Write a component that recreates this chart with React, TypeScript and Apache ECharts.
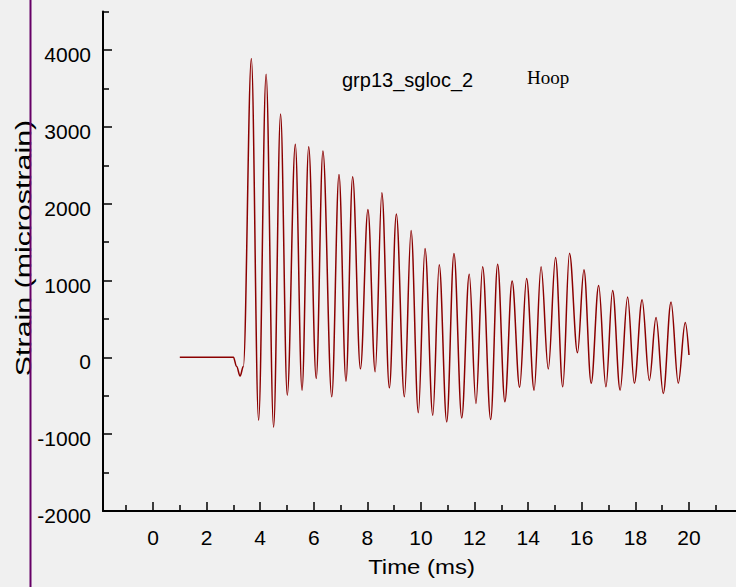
import React, { useEffect, useRef } from "react";
import * as echarts from "echarts";

// Extrema of the recorded strain trace (time in ms, strain in microstrain)
const timeMs = [
  1.0, 3.0, 3.12, 3.25, 3.37,
  3.67, 3.94, 4.22, 4.5, 4.76, 5.01, 5.31, 5.56, 5.81, 6.09,
  6.34, 6.67, 6.94, 7.2, 7.45, 7.74, 8.02, 8.29, 8.54, 8.82,
  9.08, 9.38, 9.63, 9.9, 10.15, 10.44, 10.68, 10.96, 11.23, 11.52,
  11.8, 12.05, 12.3, 12.6, 12.86, 13.13, 13.4, 13.68, 13.94, 14.22,
  14.48, 14.75, 15.02, 15.29, 15.54, 15.84, 16.08, 16.35, 16.63, 16.9,
  17.15, 17.43, 17.71, 17.96, 18.25, 18.52, 18.77, 19.04, 19.33, 19.6,
  19.86, 20.0,
];
const strain = [
  0, 0, -120, -242, -120,
  3890, -818, 3684, -910, 3167, -492, 2772, -427, 2741, -275,
  2685, -514, 2381, -310, 2350, -150, 1925, -187, 2142, -397,
  1865, -514, 1652, -722, 1418, -753, 1205, -840, 1353, -788,
  1083, -600, 1178, -809, 1210, -579, 994, -390, 1027, -427,
  1178, -152, 1299, -384, 1356, 60, 1140, -338, 935, -384,
  870, -427, 785, -338, 750, -300, 517, -470, 721, -336,
  455, 30,
];

const majorTimeTicks = [0, 2, 4, 6, 8, 10, 12, 14, 16, 18, 20];
const minorTimeTicks = [-1, 1, 3, 5, 7, 9, 11, 13, 15, 17, 19, 21];
const majorStrainTicks = [-2000, -1000, 0, 1000, 2000, 3000, 4000];
const minorStrainTicks = [-1500, -500, 500, 1500, 2500, 3500, 4500];

const xTitle = "Time (ms)";
const yTitle = "Strain (microstrain)";
const gaugeLabel = "grp13_sgloc_2";
const directionLabel = "Hoop";

export default function App() {
  const ref = useRef<HTMLDivElement>(null);
  useEffect(() => {
    document.body.style.margin = "0";
    const chart = echarts.init(ref.current!, null, { renderer: "svg" });
    const font = "Arial, 'Liberation Sans', Helvetica, sans-serif";
    const xMin = -1.866;
    const xMax = 21.754;
    chart.setOption({
      animation: false,
      backgroundColor: "#f0f0f0",
      grid: { left: 103, right: 0, top: 11.6, bottom: 76, containLabel: false, outerBoundsMode: "none" },
      xAxis: [
        {
          type: "value",
          min: xMin,
          max: xMax,
          axisLine: { show: true, onZero: false, lineStyle: { color: "#000", width: 2 } },
          axisTick: { show: true, inside: true, length: 9, customValues: majorTimeTicks, lineStyle: { color: "#000", width: 1.5 } },
          axisLabel: { customValues: majorTimeTicks, formatter: (v: number) => String(v), fontFamily: font, fontSize: 21, color: "#000", margin: 16 },
          splitLine: { show: false },
        },
        {
          type: "value",
          min: xMin,
          max: xMax,
          position: "bottom",
          axisLine: { show: false, onZero: false },
          axisTick: { show: true, inside: true, length: 6, customValues: minorTimeTicks, lineStyle: { color: "#000", width: 1.5 } },
          axisLabel: { show: false },
          splitLine: { show: false },
        },
      ],
      yAxis: [
        {
          type: "value",
          min: -2000,
          max: 4500,
          axisLine: { show: true, onZero: false, lineStyle: { color: "#000", width: 2 } },
          axisTick: { show: true, inside: true, length: 9, customValues: majorStrainTicks, lineStyle: { color: "#000", width: 1.5 } },
          axisLabel: {
            customValues: majorStrainTicks,
            formatter: (v: number) => String(v),
            fontFamily: font,
            fontSize: 21,
            color: "#000",
            margin: 12,
            verticalAlign: "top",
            lineHeight: 9,
          },
          splitLine: { show: false },
        },
        {
          type: "value",
          min: -2000,
          max: 4500,
          position: "left",
          axisLine: { show: false, onZero: false },
          axisTick: { show: true, inside: true, length: 6, customValues: minorStrainTicks, lineStyle: { color: "#000", width: 1.5 } },
          axisLabel: { show: false },
          splitLine: { show: false },
        },
      ],
      graphic: [
        {
          type: "line",
          shape: { x1: 30.5, y1: 0, x2: 30.5, y2: 587 },
          style: { stroke: "#660066", lineWidth: 2 },
          z: 100,
        },
        {
          type: "text",
          x: 24,
          y: 248,
          rotation: Math.PI / 2,
          scaleX: 1.38,
          style: { text: yTitle, fontFamily: font, fontSize: 22, fill: "#000", align: "center", verticalAlign: "middle" },
        },
        {
          type: "text",
          x: 421.5,
          y: 567,
          scaleX: 1.14,
          style: { text: xTitle, fontFamily: font, fontSize: 21, fill: "#000", align: "center", verticalAlign: "middle" },
        },
        {
          type: "text",
          left: 342,
          top: 70,
          style: { text: gaugeLabel, fontFamily: font, fontSize: 20, fill: "#000" },
        },
        {
          type: "text",
          left: 527,
          top: 68,
          style: { text: directionLabel, fontFamily: "'Liberation Serif', 'Times New Roman', serif", fontSize: 19, fill: "#000" },
        },
      ],
      series: [
        {
          type: "line",
          data: timeMs.map((t, i) => [t, strain[i]]),
          showSymbol: false,
          smooth: 0.36,
          smoothMonotone: "x",
          lineStyle: { color: "#8b0000", width: 1.5 },
          xAxisIndex: 0,
          yAxisIndex: 0,
        },
      ],
    });
    return () => chart.dispose();
  }, []);
  return <div ref={ref} style={{ width: 736, height: 587 }} />;
}
